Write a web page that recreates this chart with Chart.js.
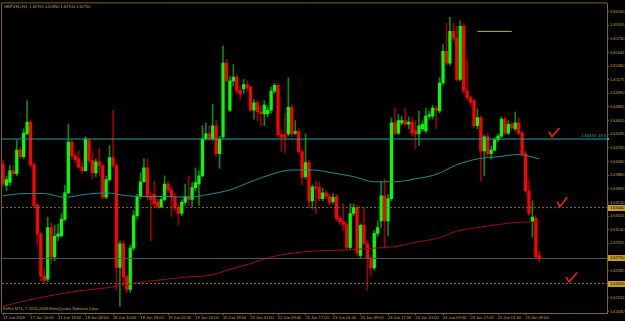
<!DOCTYPE html>
<html>
<head>
<meta charset="utf-8">
<script src="https://cdn.jsdelivr.net/npm/chart.js@4.4.1/dist/chart.umd.min.js"></script>
<style>
html,body{margin:0;padding:0;background:#000;}
canvas{display:block;}
</style>
</head>
<body>
<canvas id="mt4Chart" width="625" height="321"></canvas>
<script>
// GBPUSD H1, 17-25 Jun 2009
var symbolName = 'GBPUSD,H1';

var open = [1.6403,1.6374,1.6378,1.6394,1.6390,1.6422,1.6413,1.6444,1.6460,1.6402,
1.6347,1.6308,1.6251,1.6247,1.6317,1.6277,1.6305,1.6306,1.6328,1.6364,
1.6433,1.6414,1.6410,1.6399,1.6394,1.6435,1.6408,1.6391,1.6406,1.6401,
1.6358,1.6382,1.6412,1.6401,1.6263,1.6295,1.6250,1.6233,1.6289,1.6333,
1.6359,1.6379,1.6398,1.6358,1.6362,1.6351,1.6345,1.6355,1.6376,1.6368,
1.6358,1.6344,1.6336,1.6351,1.6359,1.6355,1.6371,1.6376,1.6387,1.6437,
1.6444,1.6437,1.6455,1.6417,1.6440,1.6540,1.6476,1.6516,1.6521,1.6503,
1.6505,1.6511,1.6507,1.6476,1.6486,1.6474,1.6471,1.6471,1.6476,1.6502,
1.6510,1.6443,1.6443,1.6444,1.6480,1.6445,1.6447,1.6420,1.6386,1.6405,
1.6353,1.6372,1.6371,1.6356,1.6364,1.6359,1.6352,1.6359,1.6329,1.6325,
1.6321,1.6290,1.6336,1.6344,1.6279,1.6320,1.6295,1.6275,1.6262,1.6309,
1.6326,1.6360,1.6326,1.6356,1.6459,1.6445,1.6459,1.6462,1.6457,1.6460,
1.6448,1.6444,1.6451,1.6448,1.6468,1.6468,1.6479,1.6475,1.6513,1.6556,
1.6540,1.6583,1.6574,1.6518,1.6590,1.6502,1.6493,1.6489,1.6455,1.6466,
1.6421,1.6440,1.6417,1.6422,1.6436,1.6441,1.6464,1.6445,1.6457,1.6451,
1.6459,1.6445,1.6417,1.6367,1.6325,1.6329,1.6279];

var high = [1.6408,1.6387,1.6401,1.6401,1.6435,1.6426,1.6451,1.6489,1.6463,1.6405,
1.6349,1.6310,1.6262,1.6331,1.6324,1.6320,1.6322,1.6336,1.6374,1.6457,
1.6436,1.6418,1.6421,1.6405,1.6440,1.6437,1.6421,1.6410,1.6424,1.6403,
1.6387,1.6428,1.6476,1.6403,1.6299,1.6299,1.6252,1.6293,1.6340,1.6362,
1.6391,1.6410,1.6410,1.6366,1.6380,1.6356,1.6359,1.6387,1.6380,1.6372,
1.6363,1.6349,1.6355,1.6376,1.6387,1.6378,1.6398,1.6394,1.6455,1.6459,
1.6455,1.6484,1.6462,1.6441,1.6563,1.6545,1.6522,1.6538,1.6525,1.6509,
1.6518,1.6516,1.6510,1.6491,1.6489,1.6482,1.6489,1.6482,1.6507,1.6513,
1.6513,1.6448,1.6472,1.6520,1.6483,1.6462,1.6451,1.6422,1.6444,1.6408,
1.6375,1.6380,1.6379,1.6370,1.6367,1.6362,1.6363,1.6362,1.6332,1.6349,
1.6324,1.6349,1.6349,1.6347,1.6322,1.6344,1.6299,1.6279,1.6313,1.6326,
1.6379,1.6383,1.6362,1.6466,1.6479,1.6471,1.6468,1.6479,1.6467,1.6466,
1.6462,1.6475,1.6462,1.6479,1.6475,1.6483,1.6482,1.6520,1.6565,1.6594,
1.6602,1.6594,1.6590,1.6597,1.6594,1.6545,1.6495,1.6491,1.6478,1.6468,
1.6443,1.6444,1.6428,1.6439,1.6444,1.6467,1.6467,1.6462,1.6460,1.6474,
1.6466,1.6448,1.6421,1.6380,1.6353,1.6333,1.6285];

var low = [1.6372,1.6367,1.6374,1.6387,1.6387,1.6410,1.6410,1.6443,1.6399,1.6344,
1.6293,1.6245,1.6241,1.6244,1.6268,1.6272,1.6299,1.6304,1.6326,1.6363,
1.6410,1.6405,1.6397,1.6390,1.6393,1.6405,1.6383,1.6386,1.6387,1.6355,
1.6356,1.6380,1.6398,1.6232,1.6210,1.6239,1.6229,1.6229,1.6286,1.6329,
1.6356,1.6378,1.6355,1.6299,1.6345,1.6343,1.6344,1.6353,1.6364,1.6332,
1.6340,1.6320,1.6333,1.6347,1.6347,1.6345,1.6367,1.6347,1.6386,1.6435,
1.6435,1.6435,1.6413,1.6397,1.6437,1.6513,1.6474,1.6509,1.6499,1.6491,
1.6499,1.6502,1.6474,1.6464,1.6462,1.6455,1.6455,1.6467,1.6472,1.6499,
1.6439,1.6421,1.6418,1.6441,1.6440,1.6443,1.6417,1.6375,1.6383,1.6344,
1.6343,1.6336,1.6353,1.6353,1.6356,1.6348,1.6349,1.6326,1.6320,1.6313,
1.6286,1.6287,1.6333,1.6279,1.6275,1.6293,1.6232,1.6252,1.6259,1.6305,
1.6317,1.6289,1.6306,1.6353,1.6443,1.6443,1.6456,1.6455,1.6451,1.6441,
1.6424,1.6428,1.6448,1.6445,1.6464,1.6464,1.6451,1.6472,1.6510,1.6537,
1.6537,1.6570,1.6516,1.6516,1.6499,1.6490,1.6483,1.6452,1.6451,1.6380,
1.6387,1.6413,1.6410,1.6421,1.6433,1.6439,1.6443,1.6443,1.6449,1.6448,
1.6443,1.6414,1.6364,1.6333,1.6304,1.6274,1.6270];

var close = [1.6376,1.6382,1.6394,1.6390,1.6422,1.6413,1.6445,1.6460,1.6402,1.6347,
1.6308,1.6251,1.6245,1.6317,1.6277,1.6305,1.6308,1.6328,1.6364,1.6433,
1.6414,1.6409,1.6399,1.6394,1.6437,1.6408,1.6391,1.6406,1.6401,1.6358,
1.6382,1.6412,1.6401,1.6263,1.6295,1.6250,1.6233,1.6289,1.6333,1.6359,
1.6379,1.6398,1.6358,1.6355,1.6349,1.6345,1.6355,1.6376,1.6368,1.6358,
1.6344,1.6336,1.6351,1.6359,1.6355,1.6371,1.6378,1.6387,1.6437,1.6444,
1.6437,1.6455,1.6417,1.6437,1.6540,1.6516,1.6516,1.6521,1.6503,1.6498,
1.6511,1.6507,1.6476,1.6486,1.6474,1.6471,1.6483,1.6476,1.6502,1.6510,
1.6443,1.6440,1.6439,1.6480,1.6444,1.6447,1.6420,1.6385,1.6405,1.6353,
1.6372,1.6370,1.6356,1.6364,1.6359,1.6351,1.6358,1.6329,1.6325,1.6321,
1.6290,1.6336,1.6344,1.6282,1.6320,1.6295,1.6275,1.6262,1.6309,1.6317,
1.6360,1.6326,1.6356,1.6459,1.6445,1.6462,1.6462,1.6457,1.6460,1.6445,
1.6444,1.6455,1.6457,1.6468,1.6470,1.6479,1.6476,1.6513,1.6556,1.6540,
1.6583,1.6574,1.6518,1.6590,1.6502,1.6493,1.6487,1.6455,1.6466,1.6421,
1.6440,1.6417,1.6422,1.6436,1.6441,1.6464,1.6445,1.6457,1.6452,1.6459,
1.6445,1.6417,1.6367,1.6336,1.6331,1.6277,1.6275];

// moving averages, read at every 6th bar
var maBars = [0,6,12,18,24,30,36,42,48,54,60,66,72,78,84,90,96,102,108,114,120,126,132,138,144,150,156];
var maCyan = [1.6360,1.6363,1.6363,1.6358,1.6362,1.6364,1.6360,1.6359,1.6359,1.6358,1.6362,1.6368,1.6379,
  1.6389,1.6395,1.6395,1.6391,1.6386,1.6379,1.6379,1.6383,1.6389,1.6402,1.6410,1.6413,1.6416,1.6410];
var maRed = [1.6210,1.6217,1.6223,1.6228,1.6232,1.6235,1.6240,1.6244,1.6247,1.6250,1.6252,1.6260,1.6268,
  1.6277,1.6282,1.6285,1.6286,1.6287,1.6289,1.6291,1.6297,1.6302,1.6312,1.6317,1.6321,1.6324,1.6325];

// horizontal objects
var cyanLevel = 1.6437;
var dottedLevels = [1.6344, 1.6241];
var bidLevel = 1.6275;
var greenSegment = [[138, 1.6583], [148, 1.6583]];

// hand drawn red check marks (bar, price)
var checkMarks = [
  [[158.8, 1.6447], [159.7, 1.6440], [161.9, 1.6452]],
  [[161.2, 1.6352], [162.0, 1.6345], [164.1, 1.6358]],
  [[163.8, 1.6250], [164.7, 1.6243], [167.0, 1.6256]]
];

var timeTickBars = [0,8,16,24,32,40,48,56,64,72,80,88,96,104,112,120,128,136,144,152];
var timeLabels = ['17 Jun 2009','17 Jun 10:00','17 Jun 18:00','18 Jun 02:00','18 Jun 10:00','18 Jun 18:00',
  '19 Jun 02:00','19 Jun 10:00','19 Jun 18:00','22 Jun 01:00','22 Jun 09:00','22 Jun 17:00',
  '23 Jun 01:00','23 Jun 09:00','23 Jun 17:00','24 Jun 01:00','24 Jun 09:00','24 Jun 17:00',
  '25 Jun 01:00','25 Jun 09:00'];
var priceTicks = [1.66100,1.65915,1.65730,1.65545,1.65360,1.65175,1.64990,1.64805,1.64620,1.64435,
  1.64250,1.64065,1.63880,1.63695,1.63510,1.63325,1.63140,1.62955,1.62770,1.62585,1.62400,1.62215,1.62030];

var X_MIN = -0.3, X_MAX = 175.7;
var axisColor = '#7a6420';
var textColor = '#c8a23c';
var fontName = '"Liberation Sans", Arial, sans-serif';

var bodies = [], wicks = [], bodyColors = [], wickColors = [];
for (var i = 0; i < close.length; i++) {
  var up = close[i] >= open[i];
  bodies.push({ x: i, y: [open[i], close[i]] });
  wicks.push({ x: i, y: [low[i], high[i]] });
  bodyColors.push(up ? '#00ff00' : '#ff0000');
  wickColors.push(up ? '#0c8a0c' : '#a00000');
}

function lineOf(xs, ys) {
  return xs.map(function (x, k) { return { x: x, y: ys[k] }; });
}
function levelLine(v) {
  return [{ x: X_MIN, y: v }, { x: X_MAX, y: v }];
}
var checkData = [];
checkMarks.forEach(function (c) {
  c.forEach(function (p) { checkData.push({ x: p[0], y: p[1] }); });
  checkData.push({ x: c[2][0], y: null });
});

function fmt(v) { return v.toFixed(5); }

var mt4Overlay = {
  id: 'mt4Overlay',
  beforeDraw: function (chart) {
    var ctx = chart.ctx;
    ctx.save();
    ctx.fillStyle = '#000000';
    ctx.fillRect(0, 0, chart.width, chart.height);
    ctx.restore();
  },
  afterDraw: function (chart) {
    var ctx = chart.ctx, a = chart.chartArea, ys = chart.scales.y;
    var last = close.length - 1;
    ctx.save();
    // frame
    ctx.strokeStyle = axisColor;
    ctx.lineWidth = 1;
    ctx.beginPath();
    ctx.moveTo(a.left - 0.5, a.bottom);
    ctx.lineTo(a.left - 0.5, a.top - 0.5);
    ctx.lineTo(a.right, a.top - 0.5);
    ctx.stroke();

    ctx.font = '4px ' + fontName;
    ctx.textBaseline = 'middle';
    ctx.fillStyle = textColor;
    ctx.textAlign = 'left';
    ctx.fillText(symbolName + '  ' + fmt(open[last]) + ' ' + fmt(high[last]) + ' ' + fmt(low[last]) + ' ' + fmt(close[last]), a.left + 2, a.top + 3);
    ctx.fillText('FxPro MT4, \u00a9 2001-2009 MetaQuotes Software Corp.', a.left + 1, a.bottom - 4);

    // label of the cyan level
    ctx.fillStyle = '#22b0b0';
    ctx.textAlign = 'right';
    ctx.fillText(fmt(cyanLevel) + '  18.3', a.right - 1, ys.getPixelForValue(cyanLevel) - 3);
    ctx.fillRect(a.right, ys.getPixelForValue(cyanLevel) - 1, 2, 2);

    // price boxes on the right axis
    ctx.textAlign = 'left';
    [dottedLevels[0], bidLevel, dottedLevels[1]].forEach(function (v) {
      var py = Math.round(ys.getPixelForValue(v));
      ctx.fillStyle = '#c89a2a';
      ctx.fillRect(a.right + 1, py - 3, chart.width - a.right - 1, 6);
      ctx.fillStyle = '#000000';
      ctx.fillText(fmt(v), a.right + 3, py);
    });
    ctx.restore();
  }
};

var ctx = document.getElementById('mt4Chart').getContext('2d');
var mt4Chart = new Chart(ctx, {
  type: 'bar',
  data: {
    datasets: [
      { type: 'line', data: checkData, borderColor: '#ff1a1a', borderWidth: 1.5, pointRadius: 0, spanGaps: false, order: 0 },
      { type: 'line', data: greenSegment.map(function (p) { return { x: p[0], y: p[1] }; }), borderColor: '#8cd000', borderWidth: 1, pointRadius: 0, order: 0 },
      { type: 'line', data: levelLine(cyanLevel), borderColor: '#1fa3a3', borderWidth: 1, pointRadius: 0, order: 1 },
      { type: 'line', data: levelLine(dottedLevels[0]), borderColor: '#8a6a22', borderWidth: 1, borderDash: [2, 2], pointRadius: 0, order: 1 },
      { type: 'line', data: levelLine(dottedLevels[1]), borderColor: '#8a6a22', borderWidth: 1, borderDash: [2, 2], pointRadius: 0, order: 1 },
      { type: 'line', data: levelLine(bidLevel), borderColor: '#55555f', borderWidth: 1, pointRadius: 0, order: 1 },
      { type: 'line', data: lineOf(maBars, maCyan), borderColor: '#1b9090', borderWidth: 1, pointRadius: 0, cubicInterpolationMode: 'monotone', order: 1 },
      { type: 'line', data: lineOf(maBars, maRed), borderColor: '#9a0f0f', borderWidth: 1, pointRadius: 0, cubicInterpolationMode: 'monotone', order: 1 },
      { type: 'bar', data: bodies, backgroundColor: bodyColors, barThickness: 2.6, minBarLength: 1, grouped: false, order: 2 },
      { type: 'bar', data: wicks, backgroundColor: wickColors, barThickness: 1, grouped: false, order: 3 }
    ]
  },
  options: {
    responsive: false,
    devicePixelRatio: 1,
    animation: false,
    layout: { padding: { left: 2, top: 2, right: 0, bottom: 0 } },
    plugins: { legend: { display: false }, tooltip: { enabled: false } },
    scales: {
      x: {
        type: 'linear', position: 'bottom', min: X_MIN, max: X_MAX, offset: false,
        grid: { display: true, drawOnChartArea: false, tickLength: 2, color: axisColor, offset: false },
        border: { color: axisColor },
        ticks: {
          autoSkip: false, maxRotation: 0, align: 'start', padding: 0, color: textColor,
          font: { family: fontName, size: 4 },
          callback: function (v, idx) { return timeLabels[idx]; }
        },
        afterBuildTicks: function (s) { s.ticks = timeTickBars.map(function (b) { return { value: b }; }); },
        afterFit: function (s) { s.height = 8; }
      },
      y: {
        type: 'linear', position: 'right', min: 1.6201, max: 1.6621,
        grid: { display: true, drawOnChartArea: false, tickLength: 2, color: axisColor },
        border: { color: axisColor },
        ticks: {
          padding: 1, color: textColor, font: { family: fontName, size: 4 },
          callback: function (v) { return v.toFixed(5); }
        },
        afterBuildTicks: function (s) { s.ticks = priceTicks.map(function (p) { return { value: p }; }); },
        afterFit: function (s) { s.width = 18; }
      }
    }
  },
  plugins: [mt4Overlay]
});
</script>
</body>
</html>
